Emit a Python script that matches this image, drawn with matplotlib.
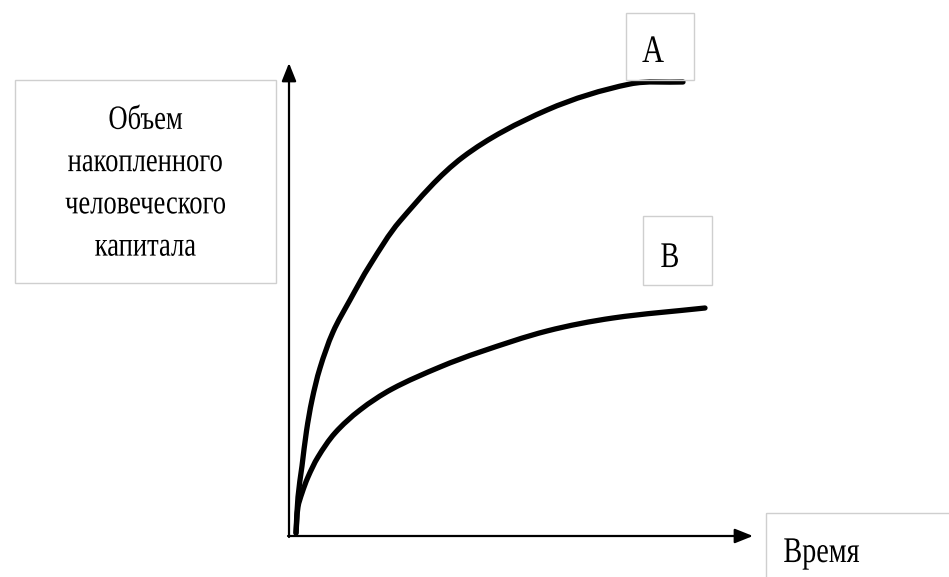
import matplotlib
matplotlib.use("Agg")
import math
import matplotlib.pyplot as plt
from matplotlib.patches import Rectangle, PathPatch
from matplotlib.path import Path
from matplotlib.patheffects import AbstractPathEffect
from matplotlib.transforms import Affine2D

# ---- data (time, accumulated human capital) ----
curve_a_t = [7, 9, 13, 17.5, 23, 31, 44, 61, 81, 111, 174, 258, 341, 394]
curve_a_k = [3, 39, 70, 105, 136, 168, 204, 236, 271, 315, 379, 426, 452, 454]
curve_b_t = [7, 9, 13, 19, 29, 46, 71, 103, 151, 191, 258, 324, 416]
curve_b_k = [3, 29, 43, 59, 79, 103, 126, 147, 169, 184, 205, 218, 228]
label_a = "A"
label_b = "B"
y_label = "Объем\nнакопленного\nчеловеческого\nкапитала"
x_label = "Время"

W, H = 949, 577
OX, OY = 289, 536  # origin in pixels


class Squeeze(AbstractPathEffect):
    """Narrow the glyphs horizontally around each line's centre."""
    def __init__(self, sx=0.78):
        super().__init__()
        self.sx = sx

    def draw_path(self, renderer, gc, tpath, affine, rgbFace=None):
        ext = tpath.get_extents(affine)
        cx = (ext.x0 + ext.x1) / 2
        aff = affine + Affine2D().translate(-cx, 0).scale(self.sx, 1).translate(cx, 0)
        renderer.draw_path(gc, tpath, aff, rgbFace)


def smooth_path(xs, ys):
    """Cubic Hermite (chord-length) Bezier path through every given point."""
    p = list(zip(xs, ys))
    n = len(p)
    d = [math.hypot(p[i + 1][0] - p[i][0], p[i + 1][1] - p[i][1]) for i in range(n - 1)]
    m = []
    for i in range(n):
        if i == 0:
            m.append(((p[1][0] - p[0][0]) / d[0], (p[1][1] - p[0][1]) / d[0]))
        elif i == n - 1:
            m.append(((p[-1][0] - p[-2][0]) / d[-1], (p[-1][1] - p[-2][1]) / d[-1]))
        else:
            s = d[i - 1] + d[i]
            m.append(((p[i + 1][0] - p[i - 1][0]) / s, (p[i + 1][1] - p[i - 1][1]) / s))
    verts = [p[0]]
    codes = [Path.MOVETO]
    for i in range(n - 1):
        c1 = (p[i][0] + m[i][0] * d[i] / 3, p[i][1] + m[i][1] * d[i] / 3)
        c2 = (p[i + 1][0] - m[i + 1][0] * d[i] / 3, p[i + 1][1] - m[i + 1][1] * d[i] / 3)
        verts += [c1, c2, p[i + 1]]
        codes += [Path.CURVE4] * 3
    return Path(verts, codes)


fig = plt.figure(figsize=(W / 100, H / 100), dpi=100)
ax = fig.add_axes([0, 0, 1, 1])
ax.set_xlim(-OX, W - OX)
ax.set_ylim(OY - H, OY)
ax.axis("off")

# overlay in pixel coordinates (top-left origin) for boxes and labels
ov = fig.add_axes([0, 0, 1, 1], facecolor="none")
ov.set_xlim(0, W)
ov.set_ylim(H, 0)
ov.axis("off")

# axes with arrows
arrow = dict(arrowstyle="-|>,head_length=0.55,head_width=0.22", lw=1.6,
             color="black", mutation_scale=20, shrinkA=0, shrinkB=0)
ax.annotate("", xy=(0, OY - 63), xytext=(0, -1), arrowprops=arrow)
ax.annotate("", xy=(753 - OX, 0), xytext=(-1, 0), arrowprops=arrow)

# curves
for xs, ys in ((curve_a_t, curve_a_k), (curve_b_t, curve_b_k)):
    ax.add_patch(PathPatch(smooth_path(xs, ys), fill=False, edgecolor="black",
                           lw=3.8, capstyle="round", joinstyle="round"))

# boxes
box_kw = dict(fill=False, edgecolor="#cfcfcf", lw=1.0)
ov.add_patch(Rectangle((15, 80), 261, 203, **box_kw))
ov.add_patch(Rectangle((626, 13), 68, 67, **box_kw))
ov.add_patch(Rectangle((643, 216), 69, 69, **box_kw))
ov.add_patch(Rectangle((766, 513), 200, 80, **box_kw))

font = ["Liberation Serif", "DejaVu Serif"]
sq = [Squeeze(0.78)]
ov.text(145.5, 184, y_label, ha="center", va="center", fontsize=24.5, family=font,
        linespacing=1.5, path_effects=sq)
ov.text(653, 62, label_a, ha="center", va="baseline", fontsize=28, family=font,
        path_effects=sq)
ov.text(670, 267, label_b, ha="center", va="baseline", fontsize=26, family=font,
        path_effects=sq)
ov.text(821.5, 562, x_label, ha="center", va="baseline", fontsize=26, family=font,
        path_effects=sq)

fig.savefig("out.png", dpi=100)
